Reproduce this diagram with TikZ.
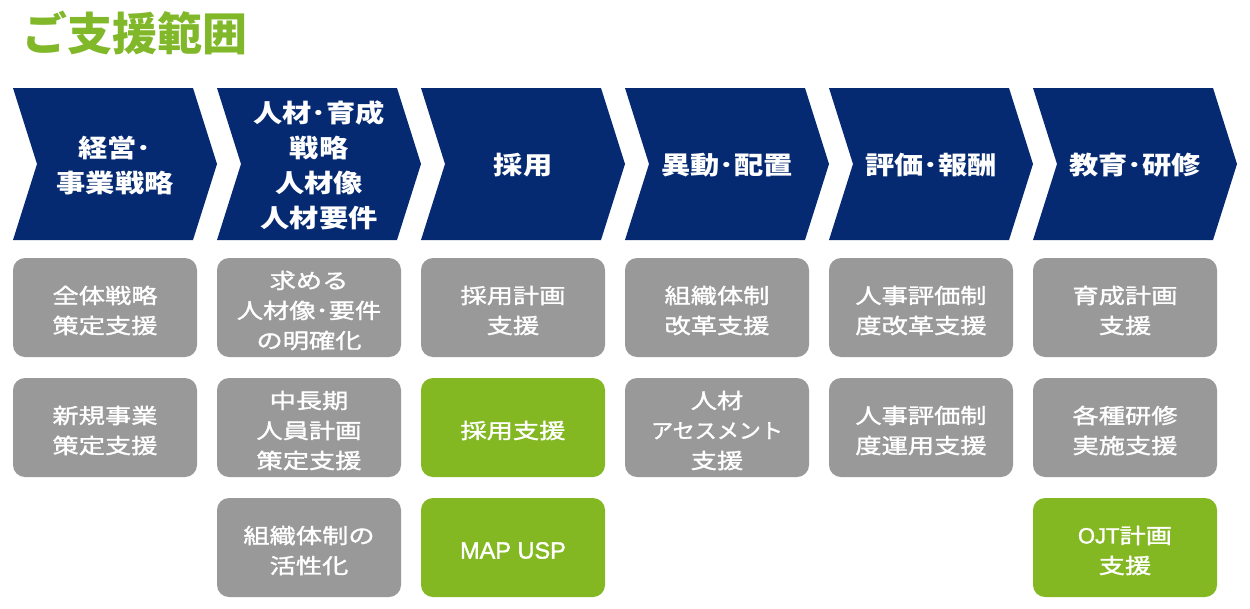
\documentclass[tikz,border=0pt]{standalone}
\usepackage{fontspec}
\setmainfont{Noto Sans CJK JP}
\newfontfamily\chevfont{Noto Sans CJK JP}[FakeStretch=1.17]
\newfontfamily\boxfont{Noto Sans CJK JP}[FakeStretch=1.25, FakeBold=1.5]
\newfontfamily\kanafont{Noto Sans CJK JP}[FakeStretch=1.05, FakeBold=1.5]
\newfontfamily\latinfont{Liberation Sans}[FakeBold=1.5]
\definecolor{navy}{HTML}{062A72}
\definecolor{boxgray}{HTML}{999999}
\definecolor{leaf}{HTML}{84B823}
\definecolor{titlegreen}{HTML}{80B82A}
\tikzset{
  chev/.style={fill=navy, draw=none},
  chevtext/.style={text=white, align=center, font={\chevfont\bfseries\fontsize{25}{35}\selectfont}, inner sep=0pt},
  graybox/.style={fill=boxgray, draw=none, rounded corners=12pt, minimum width=184pt, minimum height=99pt, inner sep=0pt},
  greenbox/.style={graybox, fill=leaf},
  boxtext/.style={text=white, align=center, font={\boxfont\fontsize{21}{30}\selectfont}, inner sep=0pt},
}
\newcommand\mkbox[5]{% style, name, x, y, text
  \node[#1] (#2) at (#3,#4) {};
  \node[boxtext] (#2t) at ([yshift=-3pt]#2.center) {#5};
}
\begin{document}
\begin{tikzpicture}[x=1pt,y=-1pt]
\useasboundingbox (0,0) rectangle (1250,608);
\node[anchor=west, text=titlegreen, font={\bfseries\fontsize{45}{50}\selectfont}, inner sep=0pt] (title) at (22,33) {ご支援範囲};
% chevrons
\foreach \i/\t/\n in {0/{経営･\\事業戦略}/c0, 1/{人材･育成\\戦略\\人材像\\人材要件}/c1, 2/{採用}/c2, 3/{異動･配置}/c3, 4/{評価･報酬}/c4, 5/{教育･研修}/c5}{
  \pgfmathsetmacro{\xo}{13+204*\i}
  \fill[chev] (\xo,88) -- ++(180,0) -- ++(24,76) -- ++(-24,76) -- ++(-180,0) -- ++(24,-76) -- cycle;
  \node[chevtext] (\n) at (\xo+102,165) {\t};
}
% row 1
\mkbox{graybox}{b01}{105}{307.5}{全体戦略\\策定支援}
\mkbox{graybox}{b11}{309}{307.5}{求める\\人材像･要件\\の明確化}
\mkbox{graybox}{b21}{513}{307.5}{採用計画\\支援}
\mkbox{graybox}{b31}{717}{307.5}{組織体制\\改革支援}
\mkbox{graybox}{b41}{921}{307.5}{人事評価制\\度改革支援}
\mkbox{graybox}{b51}{1125}{307.5}{育成計画\\支援}
% row 2
\mkbox{graybox}{b02}{105}{427.5}{新規事業\\策定支援}
\mkbox{graybox}{b12}{309}{427.5}{中長期\\人員計画\\策定支援}
\mkbox{greenbox}{b22}{513}{427.5}{採用支援}
\mkbox{graybox}{b32}{717}{427.5}{人材\\{\kanafont アセスメント}\\支援}
\mkbox{graybox}{b42}{921}{427.5}{人事評価制\\度運用支援}
\mkbox{graybox}{b52}{1125}{427.5}{各種研修\\実施支援}
% row 3
\mkbox{graybox}{b13}{309}{547.5}{組織体制の\\活性化}
\mkbox{greenbox}{b23}{513}{547.5}{{\latinfont\fontsize{23.5}{30}\selectfont MAP USP}}
\mkbox{greenbox}{b53}{1125}{547.5}{{\latinfont\fontsize{22}{30}\selectfont OJT}計画\\支援}
\end{tikzpicture}
\end{document}
